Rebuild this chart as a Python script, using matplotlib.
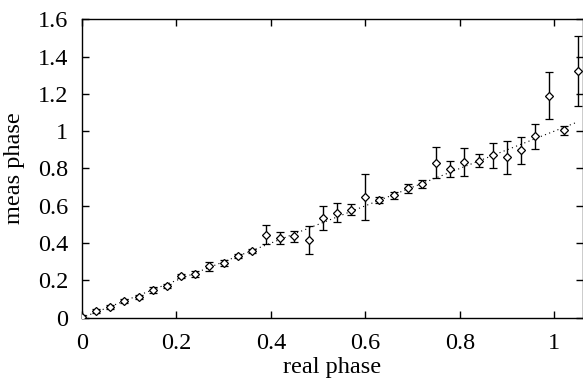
import matplotlib
matplotlib.use("Agg")
import matplotlib.pyplot as plt
import numpy as np

real_phase = [0.00, 0.03, 0.06, 0.09, 0.12, 0.15, 0.18, 0.21, 0.24, 0.27,
              0.30, 0.33, 0.36, 0.39, 0.42, 0.45, 0.48, 0.51, 0.54, 0.57,
              0.60, 0.63, 0.66, 0.69, 0.72, 0.75, 0.78, 0.81, 0.84, 0.87,
              0.90, 0.93, 0.96, 0.99, 1.02, 1.05]
meas_phase = [0.005, 0.036, 0.059, 0.089, 0.112, 0.148, 0.171, 0.223, 0.234, 0.275,
              0.293, 0.330, 0.357, 0.446, 0.429, 0.437, 0.416, 0.536, 0.564, 0.580,
              0.645, 0.630, 0.657, 0.693, 0.716, 0.832, 0.798, 0.834, 0.841, 0.870,
              0.859, 0.898, 0.973, 1.191, 1.005, 1.323]
meas_err = [0.008, 0.012, 0.010, 0.010, 0.010, 0.014, 0.012, 0.012, 0.014, 0.026,
            0.016, 0.010, 0.010, 0.050, 0.032, 0.029, 0.076, 0.064, 0.053, 0.031,
            0.123, 0.016, 0.019, 0.025, 0.021, 0.085, 0.043, 0.074, 0.035, 0.067,
            0.088, 0.073, 0.067, 0.125, 0.023, 0.186]
x_ticks = [0, 0.2, 0.4, 0.6, 0.8, 1.0]
x_tick_labels = ["0", "0.2", "0.4", "0.6", "0.8", "1"]
y_ticks = [0, 0.2, 0.4, 0.6, 0.8, 1.0, 1.2, 1.4, 1.6]
y_tick_labels = ["0", "0.2", "0.4", "0.6", "0.8", "1", "1.2", "1.4", "1.6"]

plt.rcParams['font.family'] = ['Liberation Serif', 'DejaVu Serif']

fig = plt.figure(figsize=(5.83, 3.79), dpi=100)
ax = fig.add_axes([82/583, (379-317.7)/379, (582.5-82)/583, (317.7-19.3)/379])

ax.plot(real_phase, real_phase, linestyle=(0, (1, 3)), color='black', linewidth=0.8)
ax.errorbar(real_phase, meas_phase, yerr=meas_err, fmt='D', markersize=4,
            markerfacecolor='white', markeredgecolor='black', markeredgewidth=0.9,
            ecolor='black', elinewidth=1.0, capsize=3, capthick=1.0, zorder=3)

ax.set_xlim(0, 1.06)
ax.set_ylim(0, 1.6)
ax.set_xticks(x_ticks)
ax.set_xticklabels(x_tick_labels)
ax.set_yticks(y_ticks)
ax.set_yticklabels(y_tick_labels)
ax.tick_params(direction='in', length=5, width=1, top=True, right=True,
               labelsize=17.5)
ax.tick_params(axis='x', pad=11)
ax.tick_params(axis='y', pad=10)
for s in ax.spines.values():
    s.set_linewidth(1.0)
ax.set_xlabel("real phase", fontsize=17.5, labelpad=2)
ax.set_ylabel("meas phase", fontsize=17.5, labelpad=9)

fig.savefig("out.png", dpi=100)
